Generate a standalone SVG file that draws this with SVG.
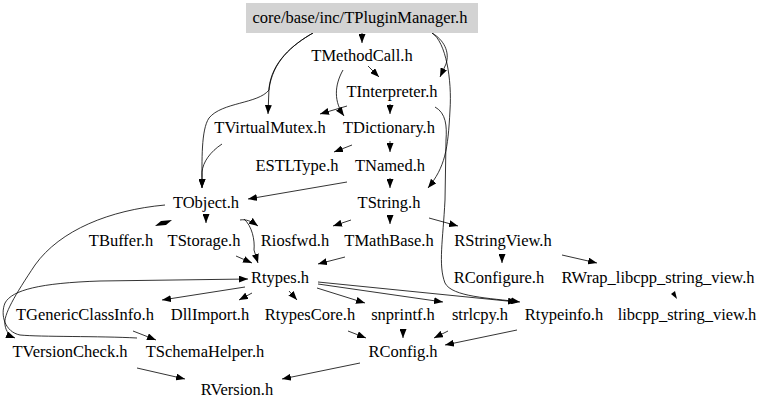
<svg xmlns="http://www.w3.org/2000/svg" width="768" height="409" viewBox="0 0 768 409">
<style>
.e{fill:none;stroke:#000;stroke-width:0.8;marker-end:url(#ah)}
.h{fill:#000;stroke:none}
</style>
<defs>
<marker id="ah" markerUnits="userSpaceOnUse" markerWidth="9" markerHeight="7" refX="9" refY="3.5" orient="auto"><path d="M0,0 L9,3.5 L0,7 z" fill="#000"/></marker>
</defs>
<rect width="768" height="409" fill="#fff"/>
<g id="connectors">
<path class="e" d="M362,33 L362,43"/>
<path class="e" d="M313,33 C292,45 272,62 269,88 L268,114"/>
<path class="e" d="M313,33 C292,45 272,62 269,90 C258,104 222,102 209,118 C201,130 202,160 202,188"/>
<path class="e" d="M222,144 C210,152 203,162 202,172 L202,188"/>
<path class="e" d="M432,33 C444,40 450,52 446,64 L440,77"/>
<path class="e" d="M432,33 C446,42 452,80 450,110 C448,150 445,167 428,188"/>
<path class="e" d="M368,66 L379,77"/>
<path class="e" d="M343,70 C334,86 334,102 344,116"/>
<path class="e" d="M347,106 L320,114"/>
<path class="e" d="M390,104 L390,114"/>
<path class="e" d="M435,107 C446,113 447,126 446,140 L445,200 C443,240 438,265 445,283 C452,297 490,298 520,302"/>
<path class="e" d="M352,145 L334,152"/>
<path class="e" d="M390,141 L390,152"/>
<path class="e" d="M347,182 L248,199"/>
<path class="e" d="M390,178 L390,188"/>
<polygon class="h" points="155,226 161,221 172,220 166,225"/>
<path class="e" d="M206,214 L206,223"/>
<path class="e" d="M240,220 C246,219 251,221 258,226"/>
<path class="e" d="M244,219 C252,226 255,240 254,250 L258,263"/>
<path class="e" d="M236,256 L252,263"/>
<path class="e" d="M351,220 L333,226"/>
<path class="e" d="M390,215 L390,224"/>
<path class="e" d="M429,218 L458,226"/>
<path class="e" d="M345,257 L318,264"/>
<path class="e" d="M502,254 L502,263"/>
<path class="e" d="M562,255 L597,263"/>
<polygon class="h" points="671,294 675,291 677,299"/>
<path class="e" d="M245,287 L162,300"/>
<path class="e" d="M252,293 L239,300"/>
<path class="e" d="M289,291 L297,300"/>
<path class="e" d="M317,288 L365,303"/>
<path class="e" d="M318,284 L443,302"/>
<path class="e" d="M318,282 L517,302"/>
<path class="e" d="M348,331 L366,338"/>
<path class="e" d="M403,329 L403,338"/>
<path class="e" d="M448,331 L434,338"/>
<path class="e" d="M517,330 L445,345"/>
<path class="e" d="M360,363 L282,379"/>
<path class="e" d="M137,368 L185,379"/>
<path class="e" d="M133,331 L156,340"/>
<path class="e" d="M165,205 C110,210 60,230 35,265 C15,295 3,315 5,325 C6,332 10,336 15,338"/>
<path class="e" d="M137,338 C100,336 40,337 20,335 C5,332 0,315 5,303 C12,290 40,283 100,281 L248,279"/>
</g>
<g font-family="'Times New Roman', 'Liberation Serif', Times, serif" font-size="16.5" text-anchor="middle" fill="#000">
<g id="n_TPluginManager"><rect x="246" y="3" width="232" height="30" fill="#d3d3d3"/><text x="360" y="23">core/base/inc/TPluginManager.h</text></g>
<g id="n_TMethodCall"><text x="362" y="61">TMethodCall.h</text></g>
<g id="n_TInterpreter"><text x="392" y="97">TInterpreter.h</text></g>
<g id="n_TVirtualMutex"><text x="270" y="133">TVirtualMutex.h</text></g>
<g id="n_TDictionary"><text x="389" y="133">TDictionary.h</text></g>
<g id="n_ESTLType"><text x="297" y="171">ESTLType.h</text></g>
<g id="n_TNamed"><text x="390" y="171">TNamed.h</text></g>
<g id="n_TObject"><text x="206" y="208">TObject.h</text></g>
<g id="n_TString"><text x="389" y="208">TString.h</text></g>
<g id="n_TBuffer"><text x="121" y="246">TBuffer.h</text></g>
<g id="n_TStorage"><text x="204" y="246">TStorage.h</text></g>
<g id="n_Riosfwd"><text x="295" y="246">Riosfwd.h</text></g>
<g id="n_TMathBase"><text x="389" y="246">TMathBase.h</text></g>
<g id="n_RStringView"><text x="503" y="246">RStringView.h</text></g>
<g id="n_Rtypes"><text x="280" y="283">Rtypes.h</text></g>
<g id="n_RConfigure"><text x="499" y="283">RConfigure.h</text></g>
<g id="n_RWrap"><text x="658" y="283">RWrap_libcpp_string_view.h</text></g>
<g id="n_TGenericClassInfo"><text x="85" y="320">TGenericClassInfo.h</text></g>
<g id="n_DllImport"><text x="210" y="320">DllImport.h</text></g>
<g id="n_RtypesCore"><text x="310" y="320">RtypesCore.h</text></g>
<g id="n_snprintf"><text x="403" y="320">snprintf.h</text></g>
<g id="n_strlcpy"><text x="480" y="320">strlcpy.h</text></g>
<g id="n_Rtypeinfo"><text x="564" y="320">Rtypeinfo.h</text></g>
<g id="n_libcpp"><text x="687" y="320">libcpp_string_view.h</text></g>
<g id="n_TVersionCheck"><text x="70" y="357">TVersionCheck.h</text></g>
<g id="n_TSchemaHelper"><text x="205" y="357">TSchemaHelper.h</text></g>
<g id="n_RConfig"><text x="403" y="357">RConfig.h</text></g>
<g id="n_RVersion"><text x="237" y="395">RVersion.h</text></g>
</g>
</svg>
